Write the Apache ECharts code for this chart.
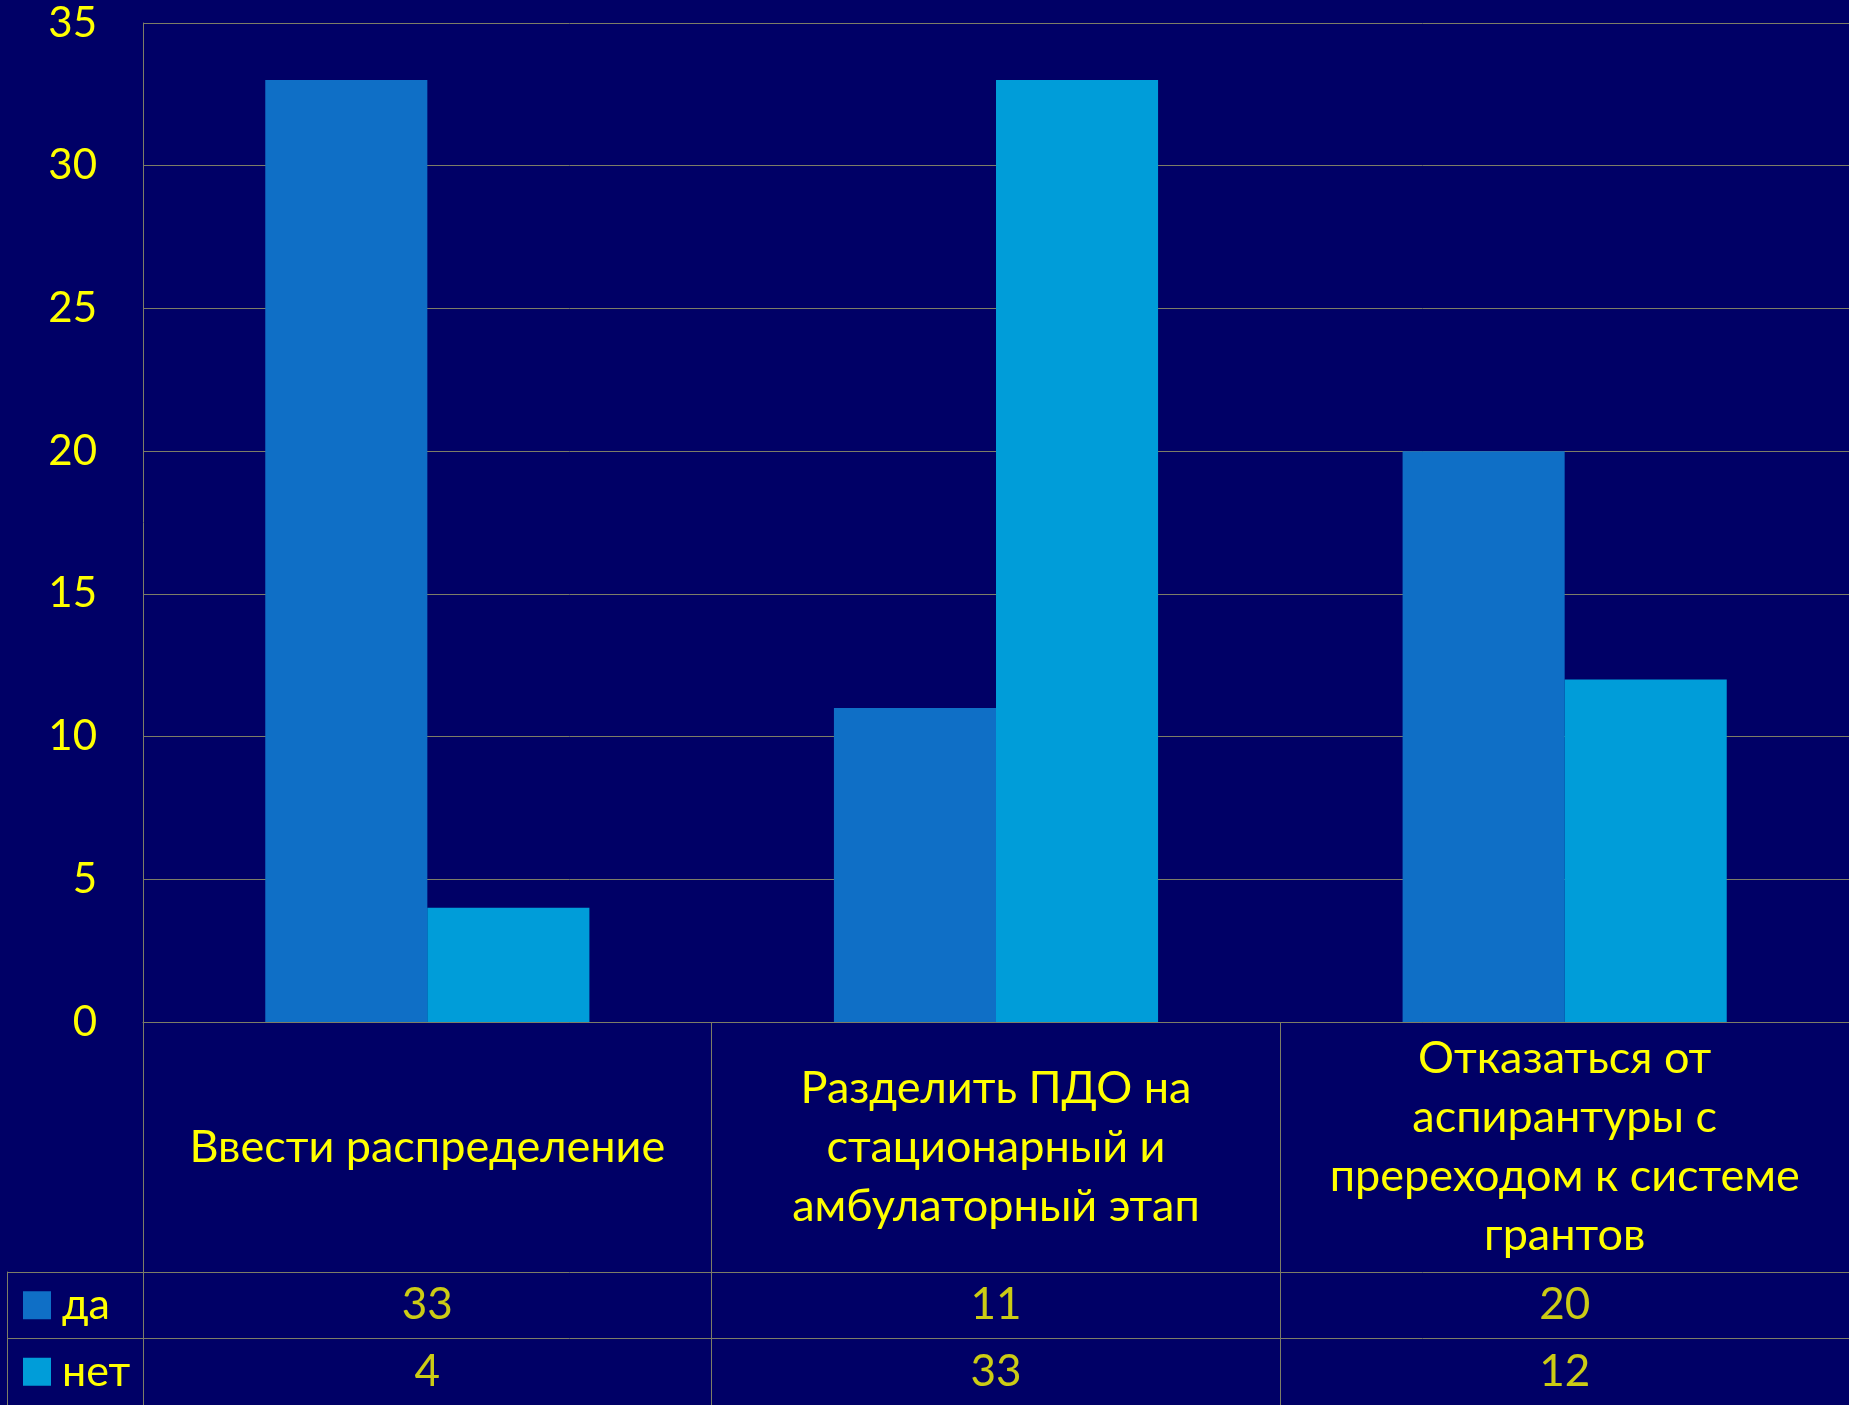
<!DOCTYPE html>
<html><head><meta charset="utf-8">
<script src="https://cdn.jsdelivr.net/npm/echarts@6/dist/echarts.min.js"></script>
<style>html,body{margin:0;padding:0;background:#000066;}#c{width:1849px;height:1405px;}</style>
</head><body><div id="c"></div>
<script>
const categories = ['Ввести распределение', 'Разделить ПДО на\nстационарный и\nамбулаторный этап', 'Отказаться от\nаспирантуры с\nпререходом к системе\nгрантов'];
const seriesNames = ['да', 'нет'];
const daValues = [33, 11, 20];
const netValues = [4, 33, 12];
const yTicks = { min: 0, max: 35, interval: 5 };
const colors = ['#0F6FC6', '#009DD9'];

const FONT = 'Lato';
const YEL = '#FFFF00';
const LINE = '#7d7d66';
const allValues = [daValues, netValues];

const rich = {};
seriesNames.forEach((n, i) => {
  rich['sq' + i] = { width: 28, height: 28, backgroundColor: colors[i] };
});
rich.gap = { width: 11 };
rich.t = { color: YEL, fontSize: 43, fontFamily: FONT };

const tableSeries = seriesNames.map((n, si) => ({
  type: 'scatter', xAxisIndex: 1, yAxisIndex: 1,
  symbolSize: 1, itemStyle: { color: 'rgba(0,0,0,0)' },
  data: allValues[si].map((v, i) => [i, n, v]),
  label: { show: true, position: 'inside', color: YEL, fontSize: 44, fontFamily: FONT,
    padding: [10, 0, 0, 0], formatter: p => String(p.value[2]) },
  silent: true
}));

const option = {
  backgroundColor: '#000066',
  animation: false,
  grid: [
    { left: 143, right: 0, top: 23, bottom: 383 },
    { left: 143, right: 0, top: 1272, height: 136 }
  ],
  xAxis: [
    { type: 'category', gridIndex: 0, data: categories,
      axisLine: { show: true, lineStyle: { color: LINE, width: 1 } },
      axisTick: { show: true, interval: 0, length: 383, lineStyle: { color: LINE, width: 1 } },
      axisLabel: { interval: 0, margin: 125, verticalAlign: 'middle', color: YEL, fontSize: 45,
        fontFamily: FONT, lineHeight: 59, align: 'center' },
      splitLine: { show: false } },
    { type: 'category', gridIndex: 1, data: categories, show: false }
  ],
  yAxis: [
    { type: 'value', gridIndex: 0, min: yTicks.min, max: yTicks.max, interval: yTicks.interval,
      axisLine: { show: true, lineStyle: { color: LINE, width: 1 } },
      axisTick: { show: false },
      axisLabel: { color: YEL, fontSize: 42, fontFamily: FONT, margin: 46, padding: [12, 0, 0, 0] },
      splitLine: { show: true, lineStyle: { color: LINE, width: 1 } } },
    { type: 'category', gridIndex: 1, data: seriesNames, inverse: true,
      axisLine: { show: true, lineStyle: { color: LINE, width: 1 } },
      axisTick: { show: true, interval: 0, length: 136, lineStyle: { color: LINE, width: 1 } },
      axisLabel: { interval: 0, align: 'left', margin: 120, rich: rich,
        formatter: (v) => { const i = seriesNames.indexOf(v); return '{sq' + i + '|}{gap|}{t|' + v + '}'; } },
      splitLine: { show: true, interval: 0, lineStyle: { color: LINE, width: 1 } } },
    { type: 'category', gridIndex: 1, data: seriesNames, inverse: true, position: 'left', offset: 136,
      axisLine: { show: true, lineStyle: { color: LINE, width: 1 } },
      axisTick: { show: false }, axisLabel: { show: false }, splitLine: { show: false } }
  ],
  series: [
    { name: seriesNames[0], type: 'bar', data: daValues, itemStyle: { color: colors[0] },
      barGap: '0%', barCategoryGap: '43%' },
    { name: seriesNames[1], type: 'bar', data: netValues, itemStyle: { color: colors[1] },
      barGap: '0%', barCategoryGap: '43%' }
  ].concat(tableSeries)
};
const chart = echarts.init(document.getElementById('c'));
chart.setOption(option);
</script></body></html>
